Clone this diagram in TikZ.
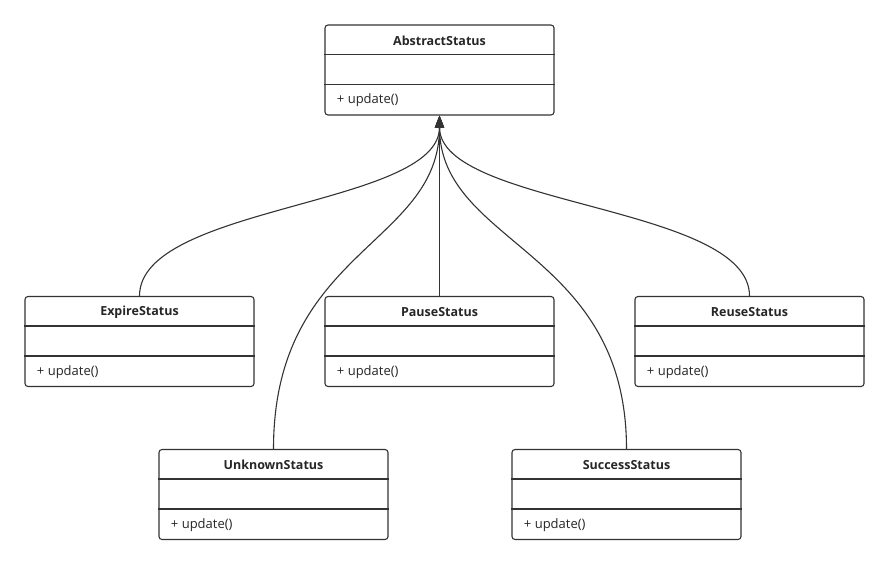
\documentclass[tikz,border=0pt]{standalone}
\usepackage{fontspec}
\setmainfont{Open Sans}
\usetikzlibrary{arrows.meta}
\definecolor{ln}{HTML}{333333}
\tikzset{
  cls/.style={draw=ln, line width=1.1pt, rounded corners=3pt, minimum width=229pt, minimum height=90pt, inner sep=0pt, fill=white},
  conn/.style={draw=ln, line width=1.1pt, -{Triangle[length=12pt,width=9pt]}},
}
\newcommand{\umlclass}[3]{%
  \node[cls] (#1) at (#2) {};
  \draw[ln, line width=1.1pt] ([yshift=-30pt]#1.north west) -- ([yshift=-30pt]#1.north east);
  \draw[ln, line width=1.1pt] ([yshift=-60pt]#1.north west) -- ([yshift=-60pt]#1.north east);
  \node[font=\fontsize{12.5}{14}\selectfont\bfseries, text=black!85] (#1-t) at ([yshift=-16pt]#1.north) {#3};
  \node[font=\fontsize{13}{15}\selectfont, text=black!85, anchor=west] (#1-m) at ([xshift=9pt,yshift=-76pt]#1.north west) {+ update()};
}
\begin{document}
\begin{tikzpicture}[x=1pt,y=-1pt]
\useasboundingbox (0,0) rectangle (890,565);
\umlclass{abs}{439.5,70}{AbstractStatus}
\umlclass{exp}{139.5,341.5}{ExpireStatus}
\umlclass{pau}{439.5,341.5}{PauseStatus}
\umlclass{reu}{749.5,341.5}{ReuseStatus}
\umlclass{unk}{273.5,494.5}{UnknownStatus}
\umlclass{suc}{626.5,494.5}{SuccessStatus}
\coordinate (tip) at (abs.south);
\draw[conn] (exp.north) .. controls ([yshift=91pt]exp.north) and ([yshift=-91pt]tip) .. (tip);
\draw[conn] (reu.north) .. controls ([yshift=91pt]reu.north) and ([yshift=-91pt]tip) .. (tip);
\draw[conn] (unk.north) .. controls ([yshift=200pt]unk.north) and ([yshift=-130pt]tip) .. (tip);
\draw[conn] (suc.north) .. controls ([yshift=200pt]suc.north) and ([yshift=-130pt]tip) .. (tip);
\draw[conn] (pau.north) -- (tip);
\end{tikzpicture}
\end{document}
